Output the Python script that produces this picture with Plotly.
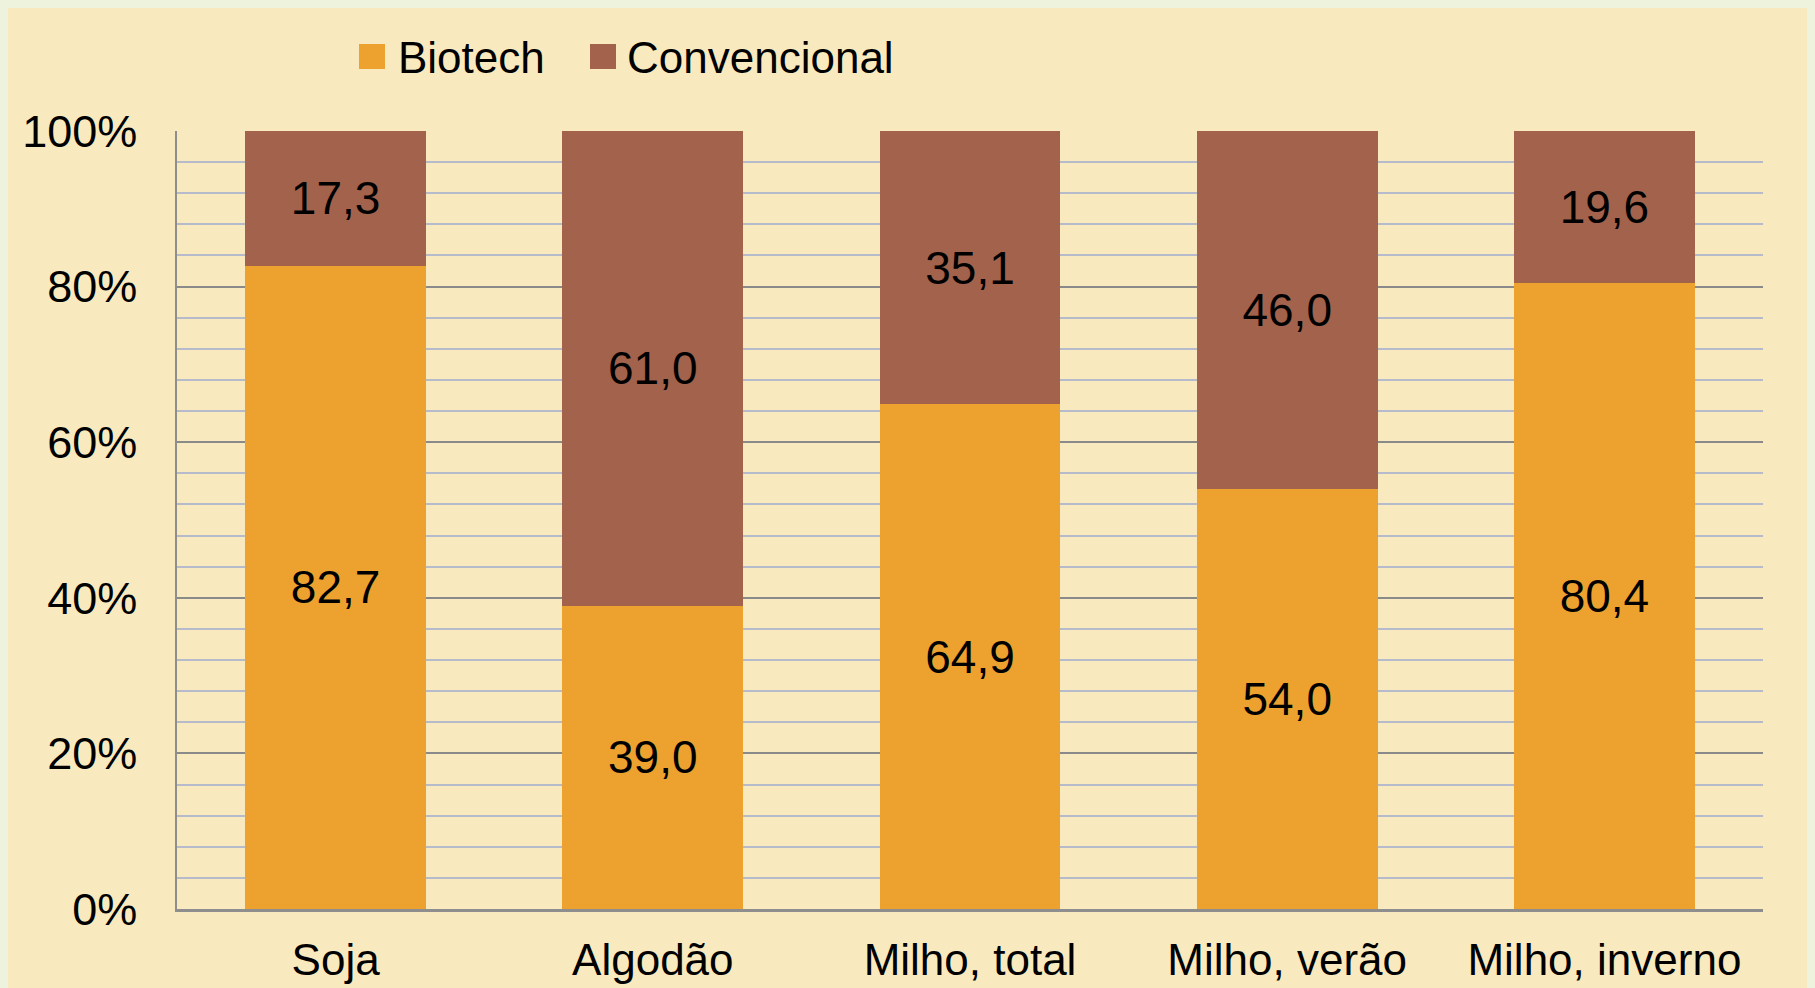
import plotly.graph_objects as go

categories = ["Soja", "Algodão", "Milho, total", "Milho, verão", "Milho, inverno"]
biotech = [82.7, 39.0, 64.9, 54.0, 80.4]
convencional = [17.3, 61.0, 35.1, 46.0, 19.6]
series_names = ["Biotech", "Convencional"]
y_ticks = [0, 20, 40, 60, 80, 100]
y_tick_labels = ["0%", "20%", "40%", "60%", "80%", "100%"]

ORANGE = "#EDA22F"
BROWN = "#A3624B"
BORDER = "#EEF3DD"
FONT = "Liberation Sans"

fig = go.Figure()
for name, vals, col in [(series_names[0], biotech, ORANGE), (series_names[1], convencional, BROWN)]:
    fig.add_trace(go.Bar(
        x=categories, y=vals, name=name, marker=dict(color=col, line=dict(width=0)),
        width=0.57, texttemplate="%{y:.1f}", textposition="inside",
        insidetextanchor="middle", textangle=0,
        textfont=dict(family=FONT, size=46, color="black"),
        showlegend=False,
    ))

# the page body has an 8px margin; figure sized so it ends at the window edge
OFF = 8
W, H = 1815 - OFF, 988 - OFF
ml, mr, mt, mb = 177 - OFF, 52, 131 - OFF, 79
pw, ph = W - ml - mr, H - mt - mb

def px(x):  # page x -> paper x
    return (x - OFF - ml) / pw

def py(y):  # page y -> paper y
    return (H - mb - (y - OFF)) / ph

shapes = [
    dict(type="rect", xref="paper", yref="paper", x0=px(8), x1=px(1808), y0=py(988), y1=py(8),
         fillcolor="#F8E9BE", line=dict(width=0), layer="below"),
]
annotations = []
legend_x = [(359, 396), (590, 625)]
for (sx, tx), name, col in zip(legend_x, series_names, [ORANGE, BROWN]):
    shapes.append(dict(type="rect", xref="paper", yref="paper", x0=px(sx), x1=px(sx + 26),
                       y0=py(69), y1=py(44), fillcolor=col, line=dict(width=0)))
    annotations.append(dict(xref="paper", yref="paper", x=px(tx), y=py(57), text=name,
                            showarrow=False, xanchor="left", yanchor="middle",
                            font=dict(family=FONT, size=44, color="black")))

fig.update_layout(
    width=W, height=H, barmode="stack", separators=",.",
    margin=dict(l=ml, r=mr, t=mt, b=mb, pad=0, autoexpand=False),
    paper_bgcolor=BORDER, plot_bgcolor="rgba(0,0,0,0)",
    shapes=shapes, annotations=annotations, bargap=0.43,
    font=dict(family=FONT, size=44, color="black"),
)
fig.update_xaxes(range=[-0.5, 4.5], showgrid=False, showline=True, linecolor="#8E8E8E",
                 linewidth=3, ticks="", ticklabelstandoff=10, automargin=False,
                 tickfont=dict(family=FONT, size=44, color="black"))
fig.update_yaxes(range=[0, 100], tickmode="array", tickvals=y_ticks, ticktext=y_tick_labels,
                 showgrid=True, automargin=False,
                 gridcolor="#8A8A8A", gridwidth=1.5, showline=True, linecolor="#8E8E8E",
                 linewidth=1.5, zeroline=False, ticks="", ticklabelstandoff=29,
                 minor=dict(dtick=4, showgrid=True, gridcolor="#B5BBCB", gridwidth=1.5),
                 tickfont=dict(family=FONT, size=45, color="black"))

fig.write_html("out.html",
               post_script="document.body.style.background='%s';document.body.style.overflow='hidden';" % BORDER)
